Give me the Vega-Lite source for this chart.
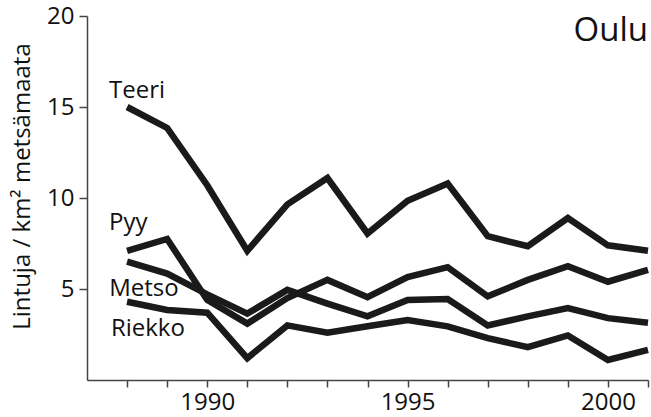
{
  "$schema": "https://vega.github.io/schema/vega-lite/v6.json",
  "width": 561,
  "height": 364,
  "autosize": {"type": "none"},
  "padding": {"left": 87, "top": 16, "right": 3, "bottom": 37},
  "background": "white",
  "config": {
    "view": {"stroke": null},
    "font": "Open Sans"
  },
  "datasets": {
    "series": [
      {"species": "Teeri", "year": 1988, "value": 15.0},
      {"species": "Teeri", "year": 1989, "value": 13.85},
      {"species": "Teeri", "year": 1990, "value": 10.7},
      {"species": "Teeri", "year": 1991, "value": 7.1},
      {"species": "Teeri", "year": 1992, "value": 9.65},
      {"species": "Teeri", "year": 1993, "value": 11.1},
      {"species": "Teeri", "year": 1994, "value": 8.05},
      {"species": "Teeri", "year": 1995, "value": 9.85},
      {"species": "Teeri", "year": 1996, "value": 10.8},
      {"species": "Teeri", "year": 1997, "value": 7.9},
      {"species": "Teeri", "year": 1998, "value": 7.35},
      {"species": "Teeri", "year": 1999, "value": 8.9},
      {"species": "Teeri", "year": 2000, "value": 7.4},
      {"species": "Teeri", "year": 2001, "value": 7.1},
      {"species": "Pyy", "year": 1988, "value": 7.1},
      {"species": "Pyy", "year": 1989, "value": 7.75},
      {"species": "Pyy", "year": 1990, "value": 4.4},
      {"species": "Pyy", "year": 1991, "value": 3.1},
      {"species": "Pyy", "year": 1992, "value": 4.5},
      {"species": "Pyy", "year": 1993, "value": 5.5},
      {"species": "Pyy", "year": 1994, "value": 4.55},
      {"species": "Pyy", "year": 1995, "value": 5.65},
      {"species": "Pyy", "year": 1996, "value": 6.2},
      {"species": "Pyy", "year": 1997, "value": 4.6},
      {"species": "Pyy", "year": 1998, "value": 5.5},
      {"species": "Pyy", "year": 1999, "value": 6.25},
      {"species": "Pyy", "year": 2000, "value": 5.4},
      {"species": "Pyy", "year": 2001, "value": 6.05},
      {"species": "Metso", "year": 1988, "value": 6.5},
      {"species": "Metso", "year": 1989, "value": 5.85},
      {"species": "Metso", "year": 1990, "value": 4.7},
      {"species": "Metso", "year": 1991, "value": 3.65},
      {"species": "Metso", "year": 1992, "value": 4.95},
      {"species": "Metso", "year": 1993, "value": 4.2},
      {"species": "Metso", "year": 1994, "value": 3.5},
      {"species": "Metso", "year": 1995, "value": 4.4},
      {"species": "Metso", "year": 1996, "value": 4.45},
      {"species": "Metso", "year": 1997, "value": 3.0},
      {"species": "Metso", "year": 1998, "value": 3.5},
      {"species": "Metso", "year": 1999, "value": 3.95},
      {"species": "Metso", "year": 2000, "value": 3.4},
      {"species": "Metso", "year": 2001, "value": 3.15},
      {"species": "Riekko", "year": 1988, "value": 4.3},
      {"species": "Riekko", "year": 1989, "value": 3.85},
      {"species": "Riekko", "year": 1990, "value": 3.7},
      {"species": "Riekko", "year": 1991, "value": 1.2},
      {"species": "Riekko", "year": 1992, "value": 3.0},
      {"species": "Riekko", "year": 1993, "value": 2.6},
      {"species": "Riekko", "year": 1994, "value": 2.95},
      {"species": "Riekko", "year": 1995, "value": 3.3},
      {"species": "Riekko", "year": 1996, "value": 2.95},
      {"species": "Riekko", "year": 1997, "value": 2.3},
      {"species": "Riekko", "year": 1998, "value": 1.8},
      {"species": "Riekko", "year": 1999, "value": 2.45},
      {"species": "Riekko", "year": 2000, "value": 1.1},
      {"species": "Riekko", "year": 2001, "value": 1.65}
    ],
    "labels": [
      {"label": "Teeri", "year": 1988.25, "value": 15.9},
      {"label": "Pyy", "year": 1988.03, "value": 8.6},
      {"label": "Metso", "year": 1988.42, "value": 5.0},
      {"label": "Riekko", "year": 1988.52, "value": 2.8}
    ],
    "place": [
      {"label": "Oulu", "year": 2001, "value": 19.2}
    ]
  },
  "layer": [
    {
      "data": {"name": "series"},
      "mark": {"type": "line", "color": "#1a1a1a", "strokeWidth": 6.5, "strokeJoin": "miter", "strokeCap": "butt"},
      "encoding": {
        "x": {
          "field": "year", "type": "quantitative",
          "scale": {"domain": [1987, 2001], "nice": false, "zero": false},
          "axis": {
            "title": null,
            "values": [1988, 1989, 1990, 1991, 1992, 1993, 1994, 1995, 1996, 1997, 1998, 1999, 2000, 2001],
            "labelExpr": "datum.value % 5 == 0 ? datum.value : ''",
            "grid": false,
            "domainColor": "#444444",
            "domainWidth": 1.5,
            "tickColor": "#444444",
            "tickWidth": 1.5,
            "tickSize": 7,
            "labelFont": "Open Sans",
            "labelFontSize": 24,
            "labelColor": "#111111",
            "labelPadding": 3,
            "labelFlush": false,
            "labelOverlap": false
          }
        },
        "y": {
          "field": "value", "type": "quantitative",
          "scale": {"domain": [0, 20], "nice": false},
          "axis": {
            "title": "Lintuja / km² metsämaata",
            "values": [5, 10, 15, 20],
            "grid": false,
            "domainColor": "#444444",
            "domainWidth": 1.5,
            "tickColor": "#444444",
            "tickWidth": 1.5,
            "tickSize": 8,
            "labelFont": "Open Sans",
            "labelFontSize": 24,
            "labelColor": "#111111",
            "labelPadding": 5,
            "labelFlush": false,
            "titleFont": "Open Sans",
            "titleFontSize": 24,
            "titleFontWeight": "normal",
            "titleColor": "#111111",
            "titleBaseline": "alphabetic",
            "titleX": -58,
            "titleY": 170,
            "titleAngle": -90
          }
        },
        "detail": {"field": "species"}
      }
    },
    {
      "data": {"name": "labels"},
      "mark": {"type": "text", "font": "Open Sans", "fontSize": 24, "color": "#111111", "align": "center", "baseline": "middle"},
      "encoding": {
        "x": {"field": "year", "type": "quantitative"},
        "y": {"field": "value", "type": "quantitative"},
        "text": {"field": "label"}
      }
    },
    {
      "data": {"name": "place"},
      "mark": {"type": "text", "font": "Open Sans", "fontSize": 33, "color": "#111111", "align": "right", "baseline": "middle"},
      "encoding": {
        "x": {"field": "year", "type": "quantitative"},
        "y": {"field": "value", "type": "quantitative"},
        "text": {"field": "label"}
      }
    }
  ]
}
